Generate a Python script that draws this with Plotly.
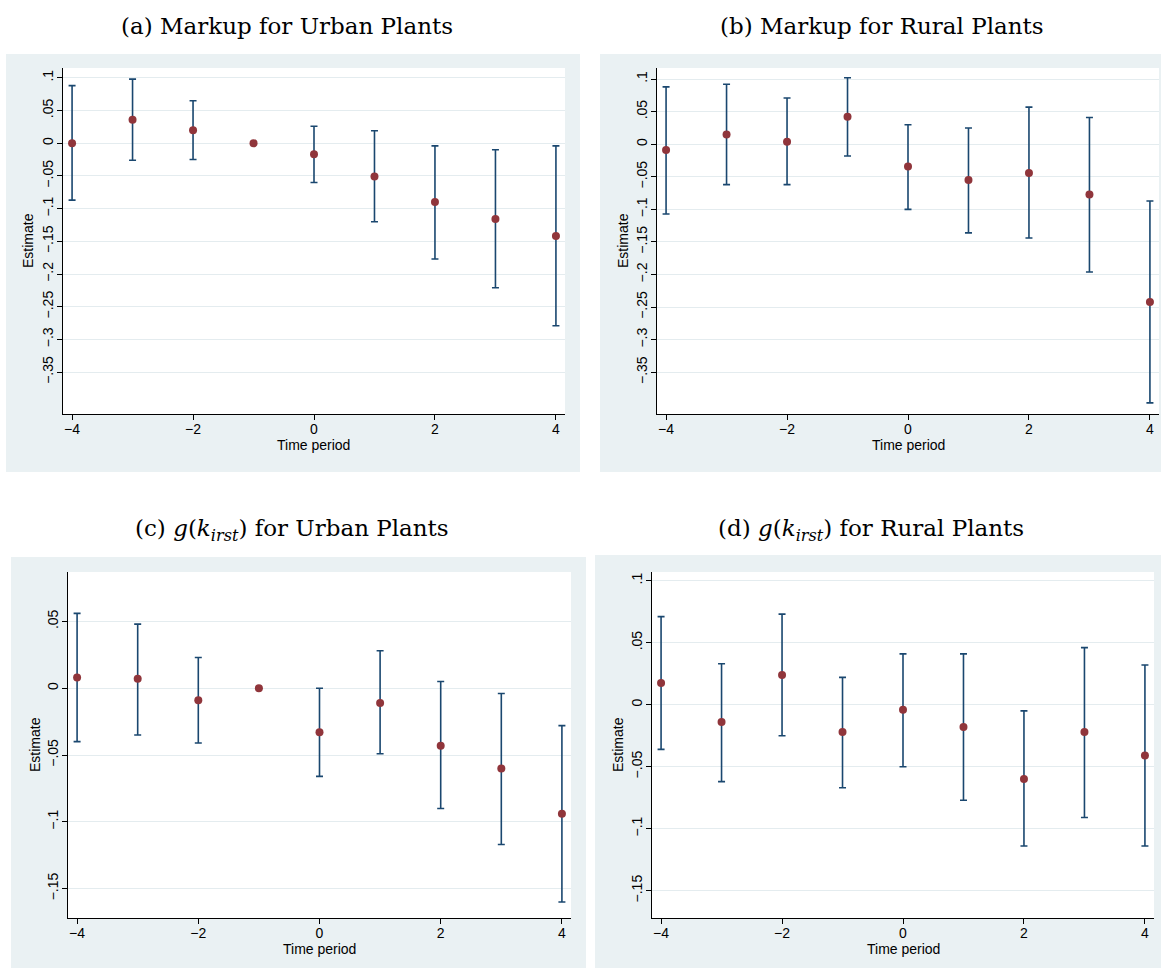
import plotly.graph_objects as go

# ---------------- data ----------------
periods = [-4, -3, -2, -1, 0, 1, 2, 3, 4]

urban_markup_est = [0.000, 0.036, 0.020, 0.000, -0.017, -0.051, -0.090, -0.116, -0.142]
urban_markup_hi = [0.088, 0.098, 0.065, None, 0.026, 0.019, -0.004, -0.010, -0.004]
urban_markup_lo = [-0.087, -0.026, -0.025, None, -0.060, -0.120, -0.177, -0.221, -0.279]

rural_markup_est = [-0.009, 0.015, 0.004, 0.042, -0.034, -0.055, -0.044, -0.077, -0.242]
rural_markup_hi = [0.088, 0.092, 0.071, 0.102, 0.030, 0.025, 0.057, 0.041, -0.087]
rural_markup_lo = [-0.107, -0.062, -0.062, -0.018, -0.100, -0.136, -0.144, -0.196, -0.397]

urban_g_est = [0.008, 0.007, -0.009, 0.000, -0.033, -0.011, -0.043, -0.060, -0.094]
urban_g_hi = [0.056, 0.048, 0.023, None, 0.000, 0.028, 0.005, -0.004, -0.028]
urban_g_lo = [-0.040, -0.035, -0.041, None, -0.066, -0.049, -0.090, -0.117, -0.160]

rural_g_est = [0.0175, -0.014, 0.024, -0.022, -0.004, -0.018, -0.060, -0.022, -0.041]
rural_g_hi = [0.071, 0.033, 0.073, 0.022, 0.041, 0.041, -0.005, 0.046, 0.032]
rural_g_lo = [-0.036, -0.062, -0.025, -0.067, -0.050, -0.077, -0.114, -0.091, -0.114]

x_tickvals = [-4, -2, 0, 2, 4]
x_ticktext = ["\u22124", "\u22122", "0", "2", "4"]

markup_tickvals = [0.1, 0.05, 0, -0.05, -0.1, -0.15, -0.2, -0.25, -0.3, -0.35]
markup_ticktext = [".1", ".05", "0", "\u2212.05", "\u2212.1", "\u2212.15", "\u2212.2",
                   "\u2212.25", "\u2212.3", "\u2212.35"]
g_urban_tickvals = [0.05, 0, -0.05, -0.1, -0.15]
g_urban_ticktext = [".05", "0", "\u2212.05", "\u2212.1", "\u2212.15"]
g_rural_tickvals = [0.1, 0.05, 0, -0.05, -0.1, -0.15]
g_rural_ticktext = [".1", ".05", "0", "\u2212.05", "\u2212.1", "\u2212.15"]

titles = [
    "(a) Markup for Urban Plants",
    "(b) Markup for Rural Plants",
    "(c) <i>g</i>(<i>k</i><sub><i>irst</i></sub>) for Urban Plants",
    "(d) <i>g</i>(<i>k</i><sub><i>irst</i></sub>) for Rural Plants",
]

# ---------------- layout geometry (pixels) ----------------
W, H = 1161, 969
panels = [
    dict(est=urban_markup_est, hi=urban_markup_hi, lo=urban_markup_lo,
         tv=markup_tickvals, tt=markup_ticktext, yr=[-0.414, 0.115],
         plot=(63, 565, 68, 414), grey=(6, 580, 54, 472), title_xy=(287, 26),
         ylab_x=28, xlab_y=445),
    dict(est=rural_markup_est, hi=rural_markup_hi, lo=rural_markup_lo,
         tv=markup_tickvals, tt=markup_ticktext, yr=[-0.414, 0.117],
         plot=(657, 1159, 68, 414), grey=(600, 1161, 54, 472), title_xy=(882, 26),
         ylab_x=623, xlab_y=445),
    dict(est=urban_g_est, hi=urban_g_hi, lo=urban_g_lo,
         tv=g_urban_tickvals, tt=g_urban_ticktext, yr=[-0.172, 0.087],
         plot=(68, 571, 572, 918), grey=(11, 586, 557, 968), title_xy=(292, 530),
         ylab_x=35, xlab_y=949),
    dict(est=rural_g_est, hi=rural_g_hi, lo=rural_g_lo,
         tv=g_rural_tickvals, tt=g_rural_ticktext, yr=[-0.172, 0.107],
         plot=(652, 1154, 572, 918), grey=(595, 1161, 555, 968), title_xy=(871, 530),
         ylab_x=618, xlab_y=949),
]

GREY = "#EAF1F3"
GRID = "#E4ECEF"
NAVY = "#1A476F"
MAROON = "#90353B"
SANS = "Liberation Sans, Arial, sans-serif"
SERIF = "DejaVu Serif, serif"

def px_x(p):
    return p / W

def px_y(p):
    return 1 - p / H

fig = go.Figure()
shapes = []
annotations = []

for i, pnl in enumerate(panels, start=1):
    xa = "x" if i == 1 else f"x{i}"
    ya = "y" if i == 1 else f"y{i}"
    # CI trace (only points with intervals)
    ci_x, ci_y, ci_p, ci_m = [], [], [], []
    for t, e, h, l in zip(periods, pnl["est"], pnl["hi"], pnl["lo"]):
        if h is None or l is None:
            continue
        ci_x.append(t)
        ci_y.append(e)
        ci_p.append(h - e)
        ci_m.append(e - l)
    fig.add_trace(go.Scatter(
        x=ci_x, y=ci_y, mode="markers",
        marker=dict(size=1, color="rgba(0,0,0,0)"),
        error_y=dict(type="data", symmetric=False, array=ci_p, arrayminus=ci_m,
                     color=NAVY, thickness=1.6, width=3.5),
        xaxis=xa, yaxis=ya, showlegend=False, hoverinfo="skip"))
    fig.add_trace(go.Scatter(
        x=periods, y=pnl["est"], mode="markers",
        marker=dict(size=8, color=MAROON),
        xaxis=xa, yaxis=ya, showlegend=False))

    x0, x1, y0, y1 = pnl["plot"]
    axkw = dict(showline=True, linecolor="#000000", linewidth=1,
                ticks="outside", ticklen=5, tickwidth=1, tickcolor="#000000",
                tickfont=dict(family=SANS, size=14, color="#000000"),
                zeroline=False, mirror=False)
    fig.update_layout(**{
        ("xaxis" if i == 1 else f"xaxis{i}"): dict(
            domain=[px_x(x0), px_x(x1)], anchor=ya, range=[-4.15, 4.15],
            tickvals=x_tickvals, ticktext=x_ticktext, showgrid=False,
            ticklabelstandoff=-3, **axkw),
        ("yaxis" if i == 1 else f"yaxis{i}"): dict(
            domain=[px_y(y1), px_y(y0)], anchor=xa, range=pnl["yr"],
            tickvals=pnl["tv"], ticktext=pnl["tt"], tickangle=-90,
            ticklabelstandoff=-2,
            showgrid=True, gridcolor=GRID, gridwidth=1, **axkw),
    })

    gx0, gx1, gy0, gy1 = pnl["grey"]
    shapes.append(dict(type="rect", xref="paper", yref="paper", layer="below",
                       x0=px_x(gx0), x1=px_x(gx1), y0=px_y(gy1), y1=px_y(gy0),
                       fillcolor=GREY, line=dict(width=0)))
    shapes.append(dict(type="rect", xref=f"{xa} domain", yref=f"{ya} domain", layer="below",
                       x0=0, x1=1, y0=0, y1=1, fillcolor="white", line=dict(width=0)))

    tx, ty = pnl["title_xy"]
    annotations.append(dict(text=titles[i - 1], xref="paper", yref="paper",
                            x=px_x(tx), y=px_y(ty), showarrow=False,
                            xanchor="center", yanchor="middle",
                            font=dict(family=SERIF, size=23, color="#000000")))
    annotations.append(dict(text="Time period", xref="paper", yref="paper",
                            x=px_x((x0 + x1) / 2), y=px_y(pnl["xlab_y"]), showarrow=False,
                            xanchor="center", yanchor="middle",
                            font=dict(family=SANS, size=14, color="#000000")))
    annotations.append(dict(text="Estimate", xref="paper", yref="paper",
                            x=px_x(pnl["ylab_x"]), y=px_y((y0 + y1) / 2), showarrow=False,
                            xanchor="center", yanchor="middle", textangle=-90,
                            font=dict(family=SANS, size=14, color="#000000")))

fig.update_layout(width=W, height=H, margin=dict(l=0, r=0, t=0, b=0),
                  paper_bgcolor="white", plot_bgcolor="white",
                  shapes=shapes, annotations=annotations, showlegend=False)

fig.write_html("out.html", config={"displayModeBar": False})
